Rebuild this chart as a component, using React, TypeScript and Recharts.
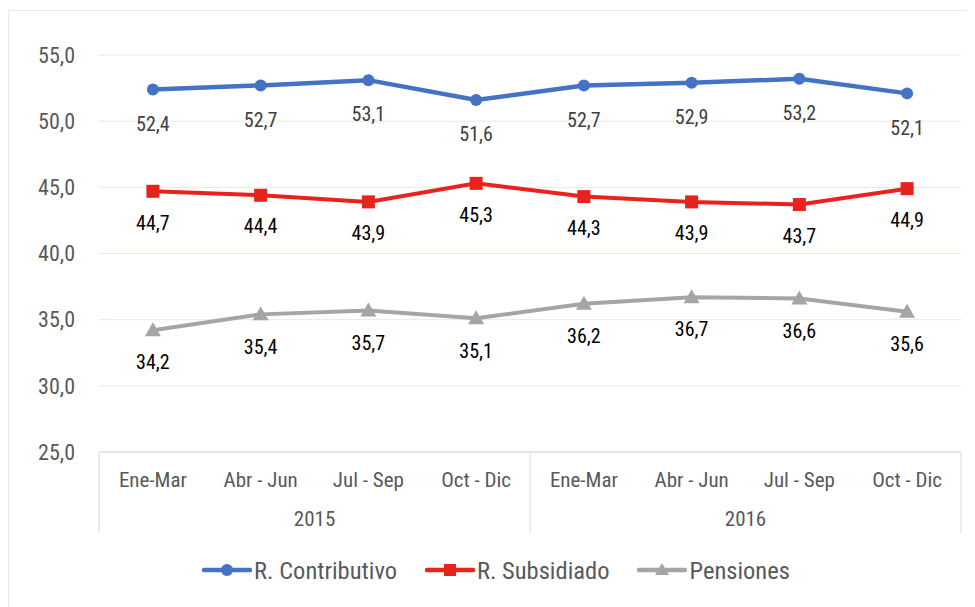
import { CartesianGrid, Legend, LabelList, Line, LineChart, XAxis, YAxis } from "recharts";

const quarters = ["Ene-Mar", "Abr - Jun", "Jul - Sep", "Oct - Dic", "Ene-Mar", "Abr - Jun", "Jul - Sep", "Oct - Dic"];
const years = ["2015", "2015", "2015", "2015", "2016", "2016", "2016", "2016"];
const contributivo = [52.4, 52.7, 53.1, 51.6, 52.7, 52.9, 53.2, 52.1];
const subsidiado = [44.7, 44.4, 43.9, 45.3, 44.3, 43.9, 43.7, 44.9];
const pensiones = [34.2, 35.4, 35.7, 35.1, 36.2, 36.7, 36.6, 35.6];
const yTicks = [25, 30, 35, 40, 45, 50, 55];

const data = quarters.map((q, i) => ({
  key: `${years[i]}-${i}`,
  quarter: q,
  year: years[i],
  contributivo: contributivo[i],
  subsidiado: subsidiado[i],
  pensiones: pensiones[i],
}));

const FONT = "'Liberation Sans Narrow', 'Arial Narrow', 'Roboto Condensed', Arial, sans-serif";
const fmt = (v: number) => v.toFixed(1).replace(".", ",");

const BLUE = "#4472C4";
const RED = "#E8231E";
const GRAY = "#A5A5A5";
const HALF_BAND = 53.9;

function QuarterTick(props: any) {
  const { x, y, payload, index } = props;
  const top = y - 8;
  const showYear = index === 1 || index === 5;
  return (
    <g>
      <text x={x} y={top + 35} textAnchor="middle" fill="#595959" fontSize={21} fontFamily={FONT}>
        {payload.value}
      </text>
      {(index === 0 || index === 4) && (
        <line x1={x - HALF_BAND} x2={x - HALF_BAND} y1={top} y2={top + 81} stroke="#d9d9d9" />
      )}
      {index === 7 && <line x1={x + HALF_BAND} x2={x + HALF_BAND} y1={top} y2={top + 81} stroke="#d9d9d9" />}
      {showYear && (
        <text x={x + HALF_BAND} y={top + 74} textAnchor="middle" fill="#595959" fontSize={21} fontFamily={FONT}>
          {years[index]}
        </text>
      )}
    </g>
  );
}

function SquareDot(props: any) {
  const { cx, cy } = props;
  return <rect x={cx - 6.5} y={cy - 6.5} width={13} height={13} fill={RED} />;
}

function TriangleDot(props: any) {
  const { cx, cy } = props;
  return <polygon points={`${cx},${cy - 8} ${cx - 8},${cy + 6} ${cx + 8},${cy + 6}`} fill={GRAY} />;
}

const legendItems = [
  { name: "R. Contributivo", color: BLUE, shape: "circle" },
  { name: "R. Subsidiado", color: RED, shape: "square" },
  { name: "Pensiones", color: GRAY, shape: "triangle" },
];

function LegendContent() {
  return (
    <div style={{ display: "flex", justifyContent: "center", alignItems: "center", height: 74, fontFamily: FONT, fontSize: 24.5, color: "#595959", paddingLeft: 22 }}>
      {legendItems.map((it, i) => (
        <div key={it.name} style={{ display: "flex", alignItems: "center", marginRight: i < 2 ? 28 : 0 }}>
          <svg width={50} height={20} style={{ marginRight: 2 }}>
            <line x1={2} x2={48} y1={10} y2={10} stroke={it.color} strokeWidth={4.5} strokeLinecap="round" />
            {it.shape === "circle" && <circle cx={25} cy={10} r={6} fill={it.color} />}
            {it.shape === "square" && <rect x={19} y={4} width={12} height={12} fill={it.color} />}
            {it.shape === "triangle" && <polygon points="25,3 18,15 32,15" fill={it.color} />}
          </svg>
          <span>{it.name}</span>
        </div>
      ))}
    </div>
  );
}

export default function App() {
  return (
    <div style={{ width: 967, height: 597, marginTop: 2, borderTop: "1px solid #ebe8e3", borderLeft: "1px solid #ebe8e3", background: "#fff" }}>
      <LineChart width={966} height={596} data={data} margin={{ top: 44, right: 14, left: 0, bottom: 0 }}>
        <CartesianGrid vertical={false} stroke="#e3ecd9" />
        <XAxis
          dataKey="key"
          tick={(p: any) => <QuarterTick {...p} payload={{ value: quarters[p.index] }} />}
          tickLine={false}
          axisLine={{ stroke: "#d9d9d9" }}
          height={81}
          interval={0}
          padding={{ left: HALF_BAND, right: HALF_BAND }}
        />
        <YAxis
          domain={[25, 55]}
          ticks={yTicks}
          tickFormatter={fmt}
          tick={{ fill: "#595959", fontSize: 22, fontFamily: FONT }}
          axisLine={false}
          tickLine={false}
          width={90}
          tickMargin={18}
        />
        <Legend verticalAlign="bottom" height={74} content={<LegendContent />} />
        <Line dataKey="contributivo" stroke={BLUE} strokeWidth={4.5} dot={{ r: 6, fill: BLUE, stroke: BLUE, strokeWidth: 0 }} isAnimationActive={false}>
          <LabelList dataKey="contributivo" position="bottom" offset={27} formatter={(v: any) => fmt(Number(v))} fill="#404040" fontSize={20} fontFamily={FONT} />
        </Line>
        <Line dataKey="subsidiado" stroke={RED} strokeWidth={4} dot={<SquareDot />} isAnimationActive={false}>
          <LabelList dataKey="subsidiado" position="bottom" offset={24} formatter={(v: any) => fmt(Number(v))} fill="#000" fontSize={20} fontFamily={FONT} />
        </Line>
        <Line dataKey="pensiones" stroke={GRAY} strokeWidth={4} dot={<TriangleDot />} isAnimationActive={false}>
          <LabelList dataKey="pensiones" position="bottom" offset={25} formatter={(v: any) => fmt(Number(v))} fill="#000" fontSize={20} fontFamily={FONT} />
        </Line>
      </LineChart>
    </div>
  );
}
